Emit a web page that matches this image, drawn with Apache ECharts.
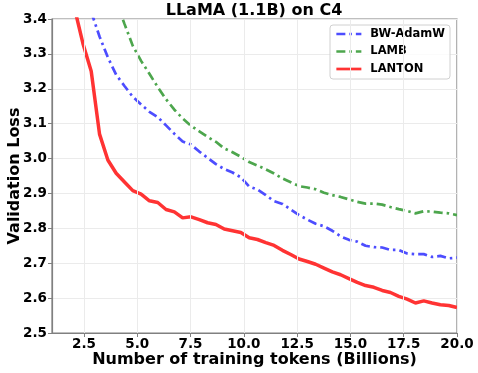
<!DOCTYPE html>
<html>
<head>
<meta charset="utf-8">
<script src="https://cdn.jsdelivr.net/npm/echarts@6/dist/echarts.min.js"></script>
<style>
html,body{margin:0;padding:0;background:#fff;}
#chart{width:478px;height:373px;}
</style>
</head>
<body>
<div id="chart"></div>
<script>
// Billions of training tokens (evaluation points)
const tokens = [2.06, 2.45, 2.84, 3.23, 3.62, 4.01, 4.40, 4.79, 5.18, 5.57, 5.96, 6.35, 6.74, 7.13, 7.52, 7.91,
  8.30, 8.69, 9.08, 9.47, 9.86, 10.25, 10.64, 11.03, 11.42, 11.81, 12.20, 12.59, 12.98, 13.37, 13.76, 14.15,
  14.54, 14.93, 15.32, 15.71, 16.10, 16.49, 16.88, 17.27, 17.66, 18.05, 18.44, 18.83, 19.22, 19.61, 20.00];

const bwAdamW = [null, null, 3.42, 3.35, 3.29, 3.24, 3.208, 3.177, 3.155, 3.134, 3.119, 3.095, 3.071, 3.049, 3.040, 3.020,
  3.002, 2.984, 2.970, 2.960, 2.946, 2.920, 2.911, 2.895, 2.878, 2.870, 2.854, 2.838, 2.825, 2.813, 2.806, 2.793,
  2.777, 2.767, 2.762, 2.750, 2.746, 2.745, 2.738, 2.738, 2.728, 2.726, 2.726, 2.718, 2.721, 2.714, 2.716];

const lamb = [null, null, null, null, null, 3.45, 3.386, 3.323, 3.280, 3.243, 3.205, 3.170, 3.140, 3.115, 3.094, 3.078,
  3.062, 3.048, 3.029, 3.018, 3.005, 2.990, 2.980, 2.969, 2.957, 2.943, 2.932, 2.921, 2.917, 2.912, 2.902, 2.895,
  2.890, 2.883, 2.876, 2.871, 2.871, 2.868, 2.861, 2.855, 2.850, 2.843, 2.849, 2.848, 2.845, 2.843, 2.838];

const lanton = [3.43, 3.33, 3.25, 3.07, 2.996, 2.958, 2.933, 2.908, 2.898, 2.879, 2.874, 2.854, 2.847, 2.830, 2.833, 2.825,
  2.816, 2.811, 2.798, 2.793, 2.788, 2.773, 2.768, 2.759, 2.751, 2.737, 2.725, 2.712, 2.705, 2.697, 2.686, 2.675,
  2.667, 2.656, 2.645, 2.636, 2.631, 2.622, 2.616, 2.605, 2.597, 2.586, 2.592, 2.586, 2.581, 2.579, 2.573];

const xTicks = [2.5, 5.0, 7.5, 10.0, 12.5, 15.0, 17.5, 20.0];
const yTicks = [2.5, 2.6, 2.7, 2.8, 2.9, 3.0, 3.1, 3.2, 3.3, 3.4];

function pairs(xs, ys) {
  const out = [];
  for (let i = 0; i < xs.length; i++) if (ys[i] !== null) out.push([xs[i], ys[i]]);
  return out;
}

const FONT = 'DejaVu Sans';
const chart = echarts.init(document.getElementById('chart'), null, {renderer: 'canvas'});

const option = {
  animation: false,
  backgroundColor: '#ffffff',
  title: {
    text: 'LLaMA (1.1B) on C4',
    left: 254, top: 3, textAlign: 'center', padding: 0,
    textStyle: {fontFamily: FONT, fontWeight: 'bold', fontSize: 16, color: '#000'}
  },
  grid: {left: 52, right: 21, top: 19, bottom: 40, outerBoundsMode: 'none', containLabel: false,
    show: true, borderColor: '#808080', borderWidth: 1.2, backgroundColor: 'transparent'},
  legend: {
    right: 28, top: 25, orient: 'vertical',
    itemWidth: 25, itemHeight: 12, itemGap: 5.5,
    padding: [3, 5, 4, 5],
    itemStyle: {opacity: 0},
    lineStyle: {width: 2.7},
    borderColor: '#d0d0d0', borderWidth: 1, borderRadius: 3, backgroundColor: 'rgba(255,255,255,0.8)',
    textStyle: {fontFamily: FONT, fontWeight: 'bold', fontSize: 11.5, color: '#000', padding: [0, 0, 0, 4]},
    data: ['BW-AdamW', 'LAMB', 'LANTON']
  },
  xAxis: {
    type: 'value', min: 1, max: 20,
    name: 'Number of training tokens (Billions)', nameLocation: 'middle', nameGap: 19, nameMoveOverlap: false,
    nameTextStyle: {fontFamily: FONT, fontWeight: 'bold', fontSize: 16, color: '#000'},
    axisLine: {show: true, lineStyle: {color: '#808080', width: 1.2}},
    axisTick: {show: true, length: 4, customValues: xTicks, lineStyle: {color: '#808080'}},
    axisLabel: {customValues: xTicks, margin: 4, fontFamily: FONT, fontWeight: 'bold', fontSize: 13.5, color: '#000',
      formatter: v => v.toFixed(1)},
    splitLine: {show: false}
  },
  yAxis: {
    type: 'value', min: 2.5, max: 3.4, interval: 0.1,
    name: 'Validation Loss', nameLocation: 'middle', nameGap: 29, nameMoveOverlap: false,
    nameTextStyle: {fontFamily: FONT, fontWeight: 'bold', fontSize: 16, color: '#000'},
    axisLine: {show: true, lineStyle: {color: '#808080', width: 1.2}},
    axisTick: {show: true, length: 4, lineStyle: {color: '#808080'}},
    axisLabel: {margin: 5, fontFamily: FONT, fontWeight: 'bold', fontSize: 13.5, color: '#000',
      formatter: v => v.toFixed(1)},
    splitLine: {show: true, lineStyle: {color: '#ebebeb', width: 1}}
  },
  series: [
    {
      name: 'grid-x', type: 'line', data: [], z: 1, silent: true,
      markLine: {silent: true, symbol: 'none', label: {show: false},
        lineStyle: {color: '#ebebeb', width: 1, type: 'solid'},
        data: xTicks.map(v => ({xAxis: v}))}
    },
    {
      name: 'BW-AdamW', type: 'line', data: pairs(tokens, bwAdamW), showSymbol: false, symbol: 'none', z: 3,
      itemStyle: {color: '#4d4dff'},
      lineStyle: {color: '#4d4dff', width: 2.7, type: [9, 4, 2.5, 4], cap: 'butt'}
    },
    {
      name: 'LAMB', type: 'line', data: pairs(tokens, lamb), showSymbol: false, symbol: 'none', z: 3,
      itemStyle: {color: '#4da64d'},
      lineStyle: {color: '#4da64d', width: 2.7, type: [9, 4, 2.5, 4], cap: 'butt'}
    },
    {
      name: 'LANTON', type: 'line', data: pairs(tokens, lanton), showSymbol: false, symbol: 'none', z: 4,
      itemStyle: {color: '#ff3333'},
      lineStyle: {color: '#ff3333', width: 3.5}
    }
  ]
};
chart.setOption(option);
</script>
</body>
</html>
